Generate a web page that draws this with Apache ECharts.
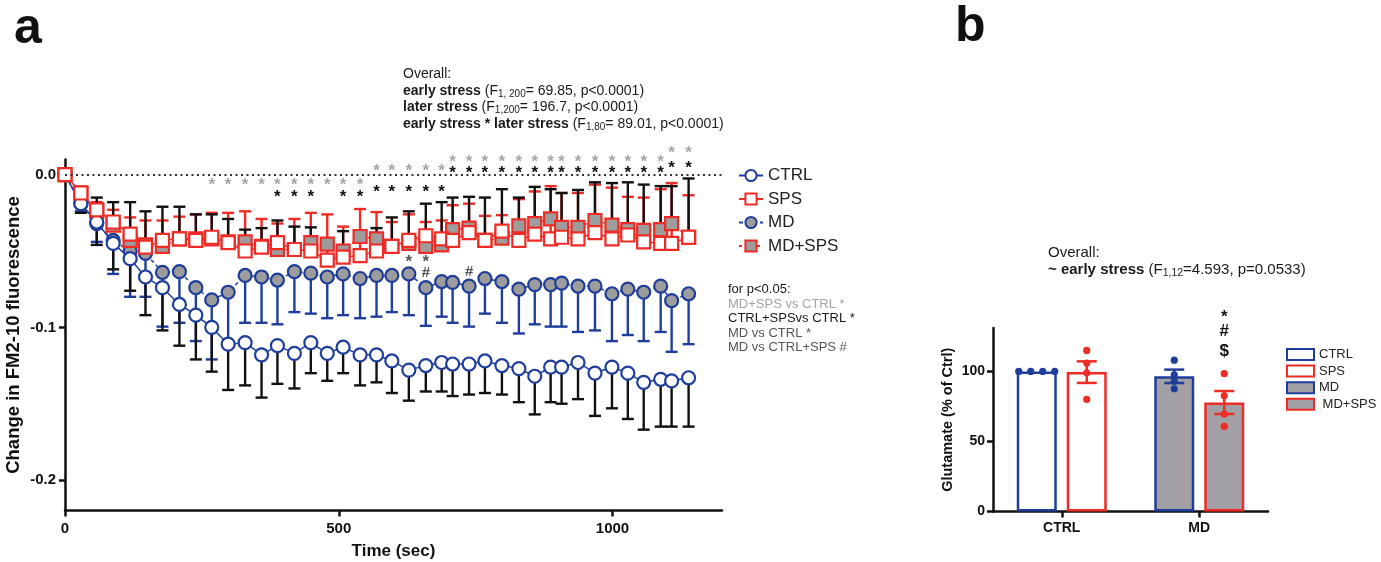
<!DOCTYPE html>
<html><head><meta charset="utf-8">
<script src="https://cdn.jsdelivr.net/npm/echarts@6/dist/echarts.min.js"></script>
<style>html,body{margin:0;padding:0;background:#fff}#c{width:1381px;height:562px}</style>
</head><body><div id="c"></div>
<script>
// ---------- Panel a data ----------
const times = [0,29,58,88,119,147,178,209,239,268,298,329,359,388,419,449,479,508,539,569,597,628,659,688,708,738,767,798,829,858,887,907,937,968,999,1028,1057,1088,1108,1139];
const ctrlMean = [0,-0.019,-0.031,-0.045,-0.055,-0.067,-0.074,-0.085,-0.092,-0.100,-0.111,-0.110,-0.118,-0.112,-0.117,-0.110,-0.117,-0.113,-0.118,-0.118,-0.122,-0.128,-0.125,-0.123,-0.124,-0.124,-0.122,-0.125,-0.127,-0.132,-0.126,-0.126,-0.123,-0.130,-0.126,-0.130,-0.136,-0.134,-0.135,-0.133];
const ctrlSem = [0,0.006,0.015,0.017,0.021,0.025,0.028,0.027,0.029,0.029,0.030,0.028,0.028,0.025,0.023,0.020,0.018,0.017,0.020,0.018,0.021,0.020,0.017,0.019,0.021,0.020,0.021,0.019,0.022,0.025,0.023,0.024,0.024,0.028,0.027,0.030,0.031,0.031,0.030,0.032];
const spsMean = [0,-0.012,-0.023,-0.031,-0.039,-0.0475,-0.043,-0.042,-0.043,-0.041,-0.0445,-0.050,-0.0475,-0.0445,-0.049,-0.050,-0.056,-0.054,-0.053,-0.050,-0.047,-0.043,-0.040,-0.042,-0.043,-0.038,-0.043,-0.037,-0.043,-0.039,-0.042,-0.041,-0.042,-0.038,-0.042,-0.0395,-0.044,-0.045,-0.045,-0.041];
const spsSem = [0,0.003,0.005,0.008,0.011,0.0175,0.013,0.0145,0.017,0.016,0.0195,0.026,0.0185,0.0125,0.020,0.025,0.030,0.020,0.0305,0.0255,0.016,0.017,0.009,0.012,0.023,0.019,0.016,0.0105,0.027,0.028,0.0345,0.029,0.030,0.0315,0.0335,0.025,0.029,0.0355,0.0395,0.0275];
const mdMean = [0,-0.019,-0.032,-0.043,-0.050,-0.0515,-0.064,-0.0635,-0.074,-0.082,-0.077,-0.066,-0.067,-0.069,-0.0635,-0.0645,-0.067,-0.065,-0.068,-0.066,-0.066,-0.065,-0.074,-0.070,-0.0705,-0.073,-0.068,-0.070,-0.075,-0.072,-0.072,-0.071,-0.073,-0.073,-0.078,-0.075,-0.077,-0.073,-0.0825,-0.078];
const mdSem = [0,0.005,0.012,0.022,0.030,0.0285,0.0355,0.0335,0.035,0.039,0.035,0.031,0.030,0.029,0.0265,0.0265,0.027,0.027,0.026,0.027,0.024,0.027,0.025,0.023,0.0265,0.0265,0.023,0.027,0.029,0.026,0.0275,0.0285,0.030,0.029,0.031,0.030,0.032,0.030,0.0335,0.033];
const mdspsMean = [0,-0.012,-0.024,-0.033,-0.043,-0.046,-0.047,-0.042,-0.042,-0.042,-0.044,-0.044,-0.047,-0.049,-0.049,-0.0445,-0.0455,-0.050,-0.0405,-0.042,-0.047,-0.045,-0.047,-0.046,-0.036,-0.035,-0.043,-0.0415,-0.0335,-0.032,-0.029,-0.0345,-0.0345,-0.030,-0.033,-0.036,-0.0365,-0.036,-0.032,-0.041];
const mdspsSem = [0,0.004,0.009,0.015,0.025,0.022,0.026,0.021,0.016,0.016,0.015,0.008,0.012,0.019,0.015,0.010,0.0035,0.013,0.0035,0.007,0.019,0.021,0.028,0.028,0.021,0.0205,0.028,0.032,0.0185,0.024,0.0195,0.0225,0.0245,0.025,0.0275,0.031,0.030,0.0285,0.0245,0.0385];

// significance marks (time, y position in data units)
const greyStarT = [268,298,329,359,388,419,449,479,508,539,569,597,628,659,688,708,738,767,798,829,858,887,907,937,968,999,1028,1057,1088,1108,1139];
const greyStarY = [-0.0046,-0.0046,-0.0046,-0.0046,-0.0046,-0.0046,-0.0046,-0.0046,-0.0046,-0.0046,0.0048,0.0048,0.0048,0.0048,0.0048,0.0107,0.0107,0.0107,0.0107,0.0107,0.0107,0.0107,0.0107,0.0107,0.0107,0.0107,0.0107,0.0107,0.0107,0.0166,0.0166];
const blackStarT = [388,419,449,508,539,569,597,628,659,688,708,738,767,798,829,858,887,907,937,968,999,1028,1057,1088,1108,1139];
const blackStarY = [-0.0122,-0.0122,-0.0122,-0.0122,-0.0122,-0.0089,-0.0089,-0.0089,-0.0089,-0.0089,0.0035,0.0035,0.0035,0.0035,0.0035,0.0035,0.0035,0.0035,0.0035,0.0035,0.0035,0.0035,0.0035,0.0035,0.007,0.007];
const mdStarT = [628,659];
const mdStarY = [-0.0547,-0.0547];
const mdHashT = [659,738];
const mdHashY = [-0.0642,-0.0635];
const xTicksA = [0,500,1000];
const yTicksA = [0,-0.1,-0.2];

// ---------- Panel b data ----------
const bCategories = ['CTRL','MD'];
const bNames = ['CTRL','SPS','MD','MD+SPS'];
const bMeans = [100,99.5,96.5,77.8];
const bSem = [0,7.7,4.8,8.2];
const bDotsCtrl = [100,100,100,100];
const bDotsSps = [115,106,99,80];
const bDotsMd = [108,97.6,93,87.6];
const bDotsMdSps = [98.4,82.6,69.6,60.7];
const bMarkText = ['*','#','$'];
const bMarkY = [141.9,128.6,114.3];
const yTicksB = [0,50,100];

// ---------- styling ----------
const F = "'Liberation Sans', Arial, Helvetica, sans-serif";
const BLUE = '#1f3e9c', RED = '#ee2b24', GREY = '#9c9c9c', BGREY = '#a2a0a4', INK = '#111111';
const BAR_W = 40, SLOT = 25;

function errA(means, sems, dir, color) {
  return {
    type: 'custom', xAxisIndex: 0, yAxisIndex: 0, z: 1, silent: true,
    encode: { x: 0, y: 1 },
    data: times.map((t, i) => [t, means[i], sems[i]]),
    renderItem(params, api) {
      const t = api.value(0), m = api.value(1), s = api.value(2);
      if (!s) return null;
      const p0 = api.coord([t, m]), p1 = api.coord([t, m + dir * s]);
      return { type: 'group', children: [
        { type: 'line', shape: { x1: p0[0], y1: p0[1], x2: p1[0], y2: p1[1] }, style: { stroke: color, lineWidth: 2.4 } },
        { type: 'line', shape: { x1: p1[0] - 6, y1: p1[1], x2: p1[0] + 6, y2: p1[1] }, style: { stroke: color, lineWidth: 2.4 } }
      ]};
    }
  };
}
function marksA(ts, ys, txt, color, dy, size) {
  return {
    type: 'custom', xAxisIndex: 0, yAxisIndex: 0, z: 6, silent: true, clip: false,
    encode: { x: 0, y: 1 },
    data: ts.map((t, i) => [t, ys[i]]),
    renderItem(params, api) {
      const p = api.coord([api.value(0), api.value(1)]);
      return { type: 'text', x: p[0], y: p[1] + dy, style: { text: txt, fill: color, font: 'bold ' + size + 'px ' + F, align: 'center', verticalAlign: 'middle' } };
    }
  };
}
function lineA(name, means, symbol, color, fill, dash, z) {
  return {
    name, type: 'line', xAxisIndex: 0, yAxisIndex: 0, z,
    data: times.map((t, i) => [t, means[i]]),
    symbol, symbolSize: 13,
    lineStyle: { color, width: 1.5, type: dash },
    itemStyle: { color: fill, borderColor: color, borderWidth: 2.2 },
    emphasis: { disabled: true }
  };
}
function barB(name, stack, values, fill, border) {
  return {
    name, type: 'bar', xAxisIndex: 1, yAxisIndex: 1, stack, barWidth: BAR_W, barGap: '25%',
    data: values, itemStyle: { color: fill, borderColor: border, borderWidth: 2.5 },
    emphasis: { disabled: true }
  };
}
function errB(g, cat, slot, color) {
  return {
    type: 'custom', xAxisIndex: 1, yAxisIndex: 1, z: 4, silent: true,
    data: [[cat, bMeans[g], bSem[g]]],
    renderItem(params, api) {
      const m = api.value(1), s = api.value(2);
      if (!s) return null;
      const c = api.coord([api.value(0), m]);
      const x = c[0] + slot * SLOT;
      const yt = api.coord([api.value(0), m + s])[1], yb = api.coord([api.value(0), m - s])[1];
      const st = { stroke: color, lineWidth: 2.5 };
      return { type: 'group', children: [
        { type: 'line', shape: { x1: x, y1: yt, x2: x, y2: yb }, style: st },
        { type: 'line', shape: { x1: x - 10, y1: yt, x2: x + 10, y2: yt }, style: st },
        { type: 'line', shape: { x1: x - 10, y1: yb, x2: x + 10, y2: yb }, style: st }
      ]};
    }
  };
}
function dotsB(vals, cat, slot, color, jitter) {
  return {
    type: 'custom', xAxisIndex: 1, yAxisIndex: 1, z: 5, silent: true,
    data: vals.map((v, i) => [cat, v, i]),
    renderItem(params, api) {
      const c = api.coord([api.value(0), api.value(1)]);
      const j = jitter ? jitter[api.value(2)] : 0;
      return { type: 'circle', shape: { cx: c[0] + slot * SLOT + j, cy: c[1], r: 3.6 }, style: { fill: color } };
    }
  };
}

const axisLineStyle = { color: INK, width: 2.5 };
const chart = echarts.init(document.getElementById('c'), null, { renderer: 'canvas' });
chart.setOption({
  animation: false,
  backgroundColor: '#ffffff',
  textStyle: { fontFamily: F },
  grid: [
    { left: 65, top: 159.4, width: 657, height: 351.2, containLabel: false, outerBoundsMode: 'none' },
    { left: 993, top: 328, width: 275, height: 183.5, containLabel: false, outerBoundsMode: 'none' }
  ],
  xAxis: [
    { type: 'value', gridIndex: 0, min: 0, max: 1200,
      axisLine: { show: true, onZero: false, lineStyle: axisLineStyle },
      axisTick: { show: true, length: 6, lineStyle: axisLineStyle, customValues: xTicksA },
      axisLabel: { show: true, customValues: xTicksA, formatter: v => String(v), color: INK, fontSize: 15, fontWeight: 'bold', fontFamily: F, margin: 11 },
      splitLine: { show: false },
      name: 'Time (sec)', nameLocation: 'middle', nameGap: 32,
      nameTextStyle: { color: INK, fontSize: 17, fontWeight: 'bold', fontFamily: F } },
    { type: 'category', gridIndex: 1, data: bCategories,
      axisLine: { show: true, onZero: false, lineStyle: axisLineStyle },
      axisTick: { show: true, alignWithLabel: true, length: 6, lineStyle: axisLineStyle },
      axisLabel: { show: true, color: INK, fontSize: 14, fontWeight: 'bold', fontFamily: F, margin: 10 },
      splitLine: { show: false } }
  ],
  yAxis: [
    { type: 'value', gridIndex: 0, min: -0.22, max: 0.01,
      axisLine: { show: true, onZero: false, lineStyle: axisLineStyle },
      axisTick: { show: true, length: 6, lineStyle: axisLineStyle, customValues: yTicksA },
      axisLabel: { show: true, customValues: yTicksA, formatter: v => Number(v).toFixed(1), color: INK, fontSize: 15, fontWeight: 'bold', fontFamily: F, margin: 9 },
      splitLine: { show: false },
      name: 'Change in FM2-10 fluorescence', nameLocation: 'middle', nameGap: 42, nameRotate: 90,
      nameTextStyle: { color: INK, fontSize: 18.5, fontWeight: 'bold', fontFamily: F } },
    { type: 'value', gridIndex: 1, min: 0, max: 131,
      axisLine: { show: true, onZero: false, lineStyle: axisLineStyle },
      axisTick: { show: true, length: 6, lineStyle: axisLineStyle, customValues: yTicksB },
      axisLabel: { show: true, customValues: yTicksB, color: INK, fontSize: 14, fontWeight: 'bold', fontFamily: F, margin: 8 },
      splitLine: { show: false },
      name: 'Glutamate (% of Ctrl)', nameLocation: 'middle', nameGap: 38, nameRotate: 90,
      nameTextStyle: { color: INK, fontSize: 14.5, fontWeight: 'bold', fontFamily: F } }
  ],
  legend: [
    { data: ['CTRL','SPS','MD','MD+SPS'], orient: 'vertical', left: 733, top: 162, itemWidth: 24, itemHeight: 14, itemGap: 6.5,
      selectedMode: false, textStyle: { fontSize: 17, color: '#222', fontFamily: F } },
    { data: ['CTRL ','SPS ','MD ',' MD+SPS'], orient: 'vertical', left: 1281, top: 343, itemWidth: 27, itemHeight: 11, itemGap: 3.6,
      icon: 'rect', selectedMode: false, textStyle: { fontSize: 13, color: '#222', fontFamily: F } }
  ],
  series: [
    errA(mdMean, mdSem, -1, BLUE),
    errA(ctrlMean, ctrlSem, -1, INK),
    errA(spsMean, spsSem, 1, RED),
    errA(mdspsMean, mdspsSem, 1, INK),
    lineA('MD', mdMean, 'circle', BLUE, GREY, [4, 3], 3),
    lineA('MD+SPS', mdspsMean, 'rect', RED, GREY, [3, 3], 3),
    Object.assign(lineA('CTRL', ctrlMean, 'circle', BLUE, '#ffffff', 'solid', 4), {
      markLine: { silent: true, symbol: ['none', 'none'], label: { show: false },
        lineStyle: { color: '#333', type: [2, 3.5], width: 2 }, data: [{ yAxis: 0 }] }
    }),
    lineA('SPS', spsMean, 'rect', RED, '#ffffff', 'solid', 4),
    marksA(greyStarT, greyStarY, '*', '#a6a6a6', 4, 17),
    marksA(blackStarT, blackStarY, '*', INK, 4, 17),
    marksA(mdStarT, mdStarY, '*', '#555555', 4, 17),
    marksA(mdHashT, mdHashY, '#', '#555555', 0, 15),
    // panel b
    barB('CTRL ', 'L', [bMeans[0], null], '#ffffff', BLUE),
    barB('SPS ', 'R', [bMeans[1], null], '#ffffff', RED),
    barB('MD ', 'L', [null, bMeans[2]], BGREY, BLUE),
    barB(' MD+SPS', 'R', [null, bMeans[3]], BGREY, RED),
    errB(1, 0, 1, RED),
    errB(2, 1, -1, BLUE),
    errB(3, 1, 1, RED),
    dotsB(bDotsCtrl, 0, -1, BLUE, [-18, -6, 6, 18]),
    dotsB(bDotsSps, 0, 1, RED),
    dotsB(bDotsMd, 1, -1, BLUE),
    dotsB(bDotsMdSps, 1, 1, RED),
    {
      type: 'custom', xAxisIndex: 1, yAxisIndex: 1, z: 6, silent: true, clip: false,
      data: bMarkY.map((y, i) => [1, y, i]),
      renderItem(params, api) {
        const c = api.coord([api.value(0), api.value(1)]);
        const t = bMarkText[api.value(2)];
        return { type: 'text', x: c[0] + SLOT, y: c[1] + (t === '*' ? 5 : 0),
          style: { text: t, fill: INK, font: 'bold 17px ' + F, align: 'center', verticalAlign: 'middle' } };
      }
    }
  ],
  graphic: [
    { type: 'text', left: 14, top: 4, style: { text: 'a', font: 'bold 50px ' + F, fill: INK } },
    { type: 'text', left: 955, top: 2, style: { text: 'b', font: 'bold 50px ' + F, fill: INK } },
    { type: 'text', left: 403, top: 66, style: {
        text: 'Overall:\n{b|early stress} (F{s|1, 200}= 69.85, p<0.0001)\n{b|later stress} (F{s|1,200}= 196.7, p<0.0001)\n{b|early stress * later stress} (F{s|1,80}= 89.01, p<0.0001)',
        font: '14px ' + F, fill: '#1a1a1a', lineHeight: 16.5,
        rich: { b: { fontWeight: 'bold', fontSize: 14, fontFamily: F, fill: '#1a1a1a', lineHeight: 16.5 },
                s: { fontSize: 10, fontFamily: F, fill: '#1a1a1a', verticalAlign: 'bottom', lineHeight: 16.5 } } } },
    { type: 'text', left: 728, top: 283, style: {
        text: '{k|for p<0.05:}\n{g|MD+SPS vs CTRL *}\n{k|CTRL+SPSvs CTRL *}\n{d|MD vs CTRL *}\n{d|MD vs CTRL+SPS #}',
        rich: { k: { fill: '#1a1a1a', fontSize: 13, fontFamily: F, lineHeight: 14.6 },
                g: { fill: '#a3a3a3', fontSize: 13, fontFamily: F, lineHeight: 14.6 },
                d: { fill: '#555555', fontSize: 13, fontFamily: F, lineHeight: 14.6 } } } },
    { type: 'text', left: 1048, top: 244, style: {
        text: 'Overall:\n{b|~ early stress} (F{s|1,12}=4.593, p=0.0533)',
        font: '15px ' + F, fill: '#1a1a1a', lineHeight: 17.5,
        rich: { b: { fontWeight: 'bold', fontSize: 15, fontFamily: F, fill: '#1a1a1a', lineHeight: 17.5 },
                s: { fontSize: 10.5, fontFamily: F, fill: '#1a1a1a', verticalAlign: 'bottom', lineHeight: 17.5 } } } }
  ]
});
</script>
</body></html>
